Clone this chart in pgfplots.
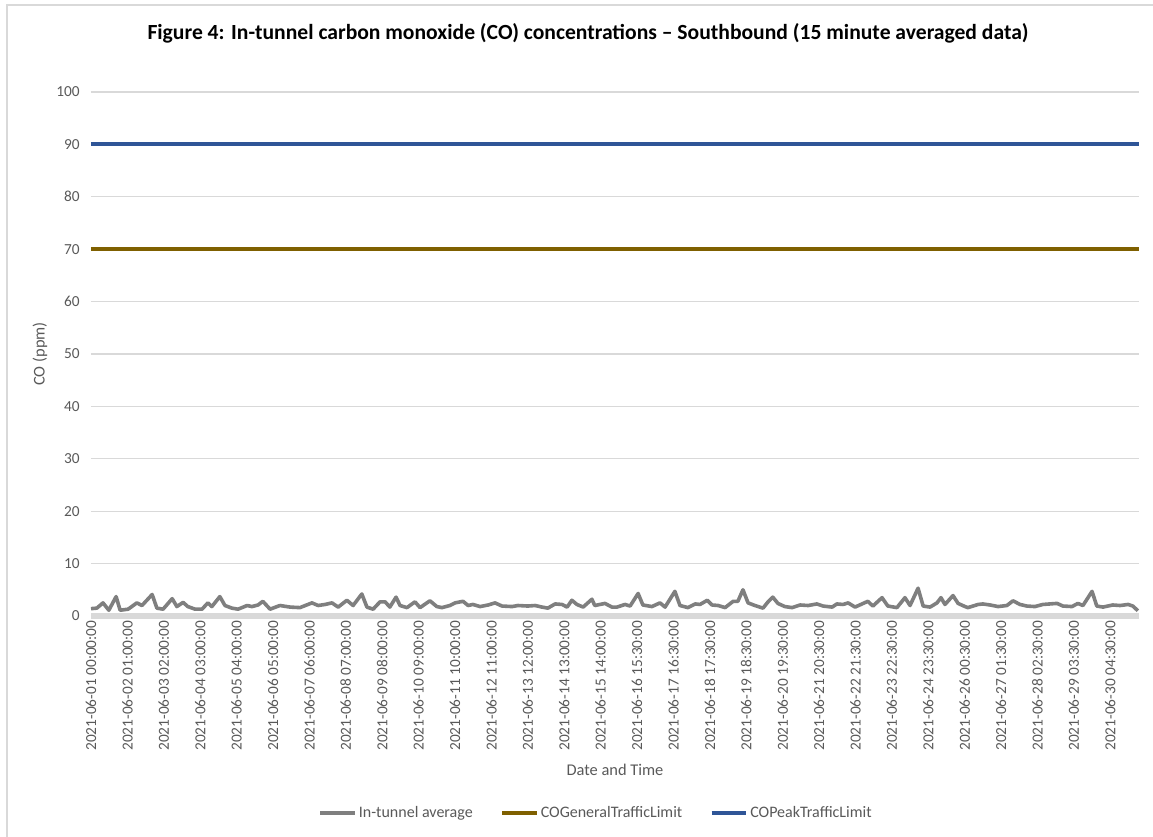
\documentclass[border=0pt]{standalone}
\usepackage{pgfplots}
\pgfplotsset{compat=1.18}
\usepackage{fontspec}
\setmainfont{Carlito}
\definecolor{txtgray}{HTML}{595959}
\definecolor{gridgray}{HTML}{D9D9D9}
\definecolor{cogray}{HTML}{7F7F7F}
\definecolor{coolive}{HTML}{7F6000}
\definecolor{coblue}{HTML}{2F5597}

\begin{document}
\begin{tikzpicture}[x=0.75pt,y=0.75pt]
\path[use as bounding box] (0,0) rectangle (1153,837);
\draw[gridgray, line width=1pt] (7,0) -- (7,832) -- (1153,832);
\node[font=\bfseries\fontsize{16.2}{19}\selectfont] at (588,804)
  {Figure 4: In-tunnel carbon monoxide (CO) concentrations – Southbound (15 minute averaged data)};

\begin{axis}[
  at={(68.25pt,165.75pt)}, anchor=south west,
  scale only axis,
  width=786pt, height=393pt,
  xmin=0, xmax=2879,
  ymin=0, ymax=100,
  ytick={0,10,...,100},
  xtick={0,100,...,2800},
  xticklabels={
    2021-06-01 00:00:00, 2021-06-02 01:00:00, 2021-06-03 02:00:00,
    2021-06-04 03:00:00, 2021-06-05 04:00:00, 2021-06-06 05:00:00,
    2021-06-07 06:00:00, 2021-06-08 07:00:00, 2021-06-09 08:00:00,
    2021-06-10 09:00:00, 2021-06-11 10:00:00, 2021-06-12 11:00:00,
    2021-06-13 12:00:00, 2021-06-14 13:00:00, 2021-06-15 14:00:00,
    2021-06-16 15:30:00, 2021-06-17 16:30:00, 2021-06-18 17:30:00,
    2021-06-19 18:30:00, 2021-06-20 19:30:00, 2021-06-21 20:30:00,
    2021-06-22 21:30:00, 2021-06-23 22:30:00, 2021-06-24 23:30:00,
    2021-06-26 00:30:00, 2021-06-27 01:30:00, 2021-06-28 02:30:00,
    2021-06-29 03:30:00, 2021-06-30 04:30:00},
  xticklabel style={rotate=90, anchor=east, font=\fontsize{11.5}{13}\selectfont, text=txtgray},
  yticklabel style={font=\fontsize{11.5}{13}\selectfont, text=txtgray, xshift=-5pt},
  /pgf/number format/assume math mode=true,
  axis line style={draw=none},
  major tick style={draw=none},
  ymajorgrids,
  grid style={gridgray, line width=0.8pt},
  xlabel={Date and Time},
  ylabel={CO (ppm)},
  label style={font=\fontsize{12.3}{14}\selectfont, text=txtgray},
  xlabel style={at={(axis description cs:0.5,-0.294)}, anchor=center},
  ylabel style={at={(axis description cs:-0.0487,0.5)}, anchor=center},
  clip=false,
  legend columns=3,
  legend style={
    at={(0.482,-0.376)}, anchor=center, draw=none,
    font=\fontsize{12}{14}\selectfont, text=txtgray,
    nodes={inner xsep=1.5pt},
    /tikz/every even column/.append style={column sep=19pt},
  },
  legend cell align=left,
  legend image code/.code={\draw[#1] (0pt,0pt) -- (26pt,0pt);},
]
% x axis bar at zero
\draw[gridgray, line width=4.5pt] (axis cs:0,0) -- (axis cs:2879,0);

\addplot[cogray, line width=2.7pt, line join=round] coordinates {
(0,1.4) (16,1.5) (33,2.5) (49,1.1) (69,3.7) (80,1.1) (102,1.3) (126,2.5)
(140,2.0) (168,4.1) (181,1.5) (198,1.3) (223,3.3) (236,1.8) (253,2.6) (266,1.8)
(286,1.3) (305,1.3) (321,2.5) (332,1.8) (354,3.7) (368,2.0) (387,1.5) (404,1.3)
(429,2.0) (442,1.8) (459,2.1) (472,2.8) (492,1.3) (519,2.0) (547,1.7) (574,1.6)
(607,2.5) (624,2.0) (643,2.2) (662,2.5) (679,1.7) (703,3.0) (720,2.0) (744,4.2)
(758,1.7) (775,1.3) (794,2.7) (808,2.7) (821,1.7) (838,3.6) (849,2.0) (868,1.6)
(890,2.7) (904,1.6) (931,2.9) (950,1.8) (964,1.6) (986,2.0) (1000,2.5) (1022,2.8)
(1036,2.0) (1049,2.2) (1069,1.8) (1091,2.1) (1110,2.5) (1129,1.9) (1157,1.8) (1173,2.0)
(1200,1.9) (1220,2.0) (1239,1.7) (1255,1.5) (1275,2.3) (1294,2.2) (1308,1.7) (1321,3.0)
(1335,2.2) (1352,1.7) (1376,3.2) (1384,2.0) (1398,2.2) (1412,2.4) (1431,1.7) (1445,1.7)
(1467,2.2) (1481,1.9) (1503,4.3) (1516,2.1) (1541,1.8) (1563,2.5) (1577,1.7) (1604,4.7)
(1618,2.0) (1640,1.6) (1660,2.3) (1673,2.2) (1693,3.0) (1706,2.1) (1723,2.0) (1742,1.6)
(1764,2.8) (1777,2.8) (1791,5.0) (1805,2.5) (1824,2.0) (1846,1.5) (1860,2.7) (1873,3.6)
(1887,2.4) (1906,1.8) (1926,1.6) (1948,2.1) (1970,2.0) (1994,2.3) (2011,1.9) (2036,1.7)
(2049,2.3) (2066,2.2) (2080,2.5) (2099,1.7) (2118,2.3) (2134,2.8) (2148,1.9) (2173,3.5)
(2189,1.9) (2214,1.6) (2236,3.5) (2250,2.0) (2272,5.3) (2286,1.9) (2305,1.7) (2324,2.5)
(2335,3.5) (2346,2.2) (2368,3.9) (2382,2.4) (2401,1.8) (2409,1.6) (2437,2.2) (2450,2.3)
(2470,2.1) (2492,1.8) (2516,2.0) (2533,2.9) (2552,2.2) (2571,1.9) (2593,1.8) (2615,2.2)
(2634,2.3) (2654,2.4) (2670,1.9) (2695,1.8) (2711,2.4) (2725,2.0) (2750,4.7) (2763,1.9)
(2780,1.7) (2807,2.1) (2827,2.0) (2849,2.2) (2862,1.9) (2876,1.0)
};
\addlegendentry{In-tunnel average}

\addplot[coolive, line width=3pt] coordinates {(0,70) (2879,70)};
\addlegendentry{COGeneralTrafficLimit}

\addplot[coblue, line width=3pt] coordinates {(0,90) (2879,90)};
\addlegendentry{COPeakTrafficLimit}
\end{axis}
\end{tikzpicture}
\end{document}
